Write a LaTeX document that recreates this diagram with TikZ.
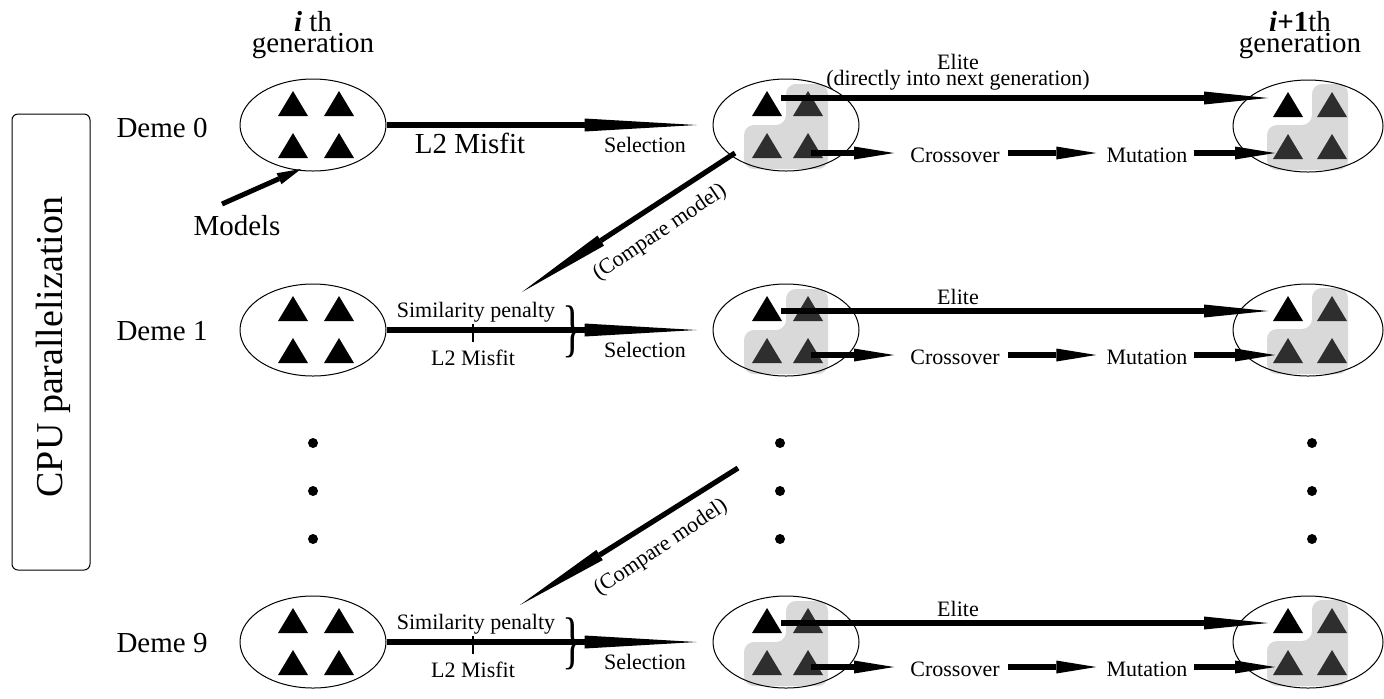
\documentclass[tikz,border=0pt]{standalone}
\usepackage{fontspec}
\setmainfont{Liberation Serif}
\usetikzlibrary{arrows.meta,shapes.geometric,calc}
\definecolor{selgray}{HTML}{D9D9D9}
\definecolor{tridark}{HTML}{2E2E2E}
\newcommand\mytri[2]{\fill[#1,shift={(#2)}] (-15,12) -- (15,12) -- (0,-13) -- cycle;}
\begin{document}
\begin{tikzpicture}[x=0.5pt,y=-0.5pt,
  pop/.style={draw,ellipse,line width=0.5pt,minimum width=73pt,minimum height=46pt,inner sep=0pt},
  big/.style={font=\fontsize{14.5}{17}\selectfont,inner sep=0pt},
  sm/.style={font=\fontsize{11}{13}\selectfont,inner sep=0pt},
  mainarr/.style={line width=3pt,-{Triangle[length=56pt,width=6.5pt,line width=0pt]}},
  elarr/.style={line width=2.8pt,-{Triangle[length=32pt,width=6.5pt,line width=0pt]}},
  smarr/.style={line width=2.8pt,-{Triangle[length=20pt,width=6.5pt,line width=0pt]}},
  cmparr/.style={line width=2.6pt,-{Triangle[length=47pt,width=6pt,line width=0pt]}},
  modarr/.style={line width=2.5pt,-{Triangle[length=12pt,width=6pt,line width=0pt]}},
  plain/.pic={
    \node[pop] (-e) at (0,0) {};
    \mytri{black}{-20,-21}\mytri{black}{26,-21}
    \mytri{black}{-20,21}\mytri{black}{26,21}
  },
  sel/.pic={
    \fill[selgray,rounded corners=5pt] (-42,0) -- (0,0) -- (0,-41) -- (42,-41) -- (42,44) -- (-42,44) -- cycle;
    \node[pop] (-e) at (0,0) {};
    \mytri{black}{-19,-21}\mytri{tridark}{22,-21}
    \mytri{tridark}{-19,21}\mytri{tridark}{22,21}
  },
  nxt/.pic={
    \fill[selgray,rounded corners=5pt] (-41,-1) -- (4,-1) -- (4,-42) -- (40,-42) -- (40,44) -- (-41,44) -- cycle;
    \node[pop,minimum width=75pt] (-e) at (0,0) {};
    \mytri{black}{-20,-21}\mytri{tridark}{24,-21}
    \mytri{tridark}{-20,21}\mytri{tridark}{24,21}
  }]
\useasboundingbox (0,0) rectangle (1384,698);

% CPU box
\node[draw,line width=0.5pt,rounded corners=3pt,minimum width=39pt,minimum height=228pt,inner sep=0pt] (cpu) at (51,342) {};
\node[rotate=90,font=\fontsize{19}{22}\selectfont,inner sep=0pt] (cpulab) at (53,347) {CPU parallelization};

% headers
\node[big,anchor=base] (h1a) at (313,31) {\textbf{\textit{i}} th};
\node[big,anchor=base] (h1b) at (313,52) {generation};
\node[big,anchor=base] (h2a) at (1300,31) {\textbf{\textit{i}+1}th};
\node[big,anchor=base] (h2b) at (1300,52) {generation};

% deme labels
\node[big] (d0) at (162,128) {Deme 0};
\node[big] (d1) at (162,331) {Deme 1};
\node[big] (d9) at (162,643) {Deme 9};

% populations
\pic (L0) at (313,125) {plain};
\pic (L1) at (313,330) {plain};
\pic (L9) at (313,642) {plain};
\pic (M0) at (786,125) {sel};
\pic (M1) at (786,330) {sel};
\pic (M9) at (786,642) {sel};
\pic (R0) at (1308,126) {nxt};
\pic (R1) at (1308,330) {nxt};
\pic (R9) at (1308,642) {nxt};

% Models
\node[big] (models) at (237,226) {Models};
\coordinate (mtail) at (222,204);
\draw[modarr] (mtail) -- ($(L0-e)+(-12,44)$);

% Deme 0 selection arrow
\draw[mainarr,shorten >=8pt] (L0-e.east) -- (M0-e.west);
\node[big] (l2a) at (470,143) {L2 Misfit};
\node[sm] (s0) at (645,145) {Selection};

% Deme 1 and 9 selection arrows
\foreach \r/\y in {1/330,9/642}{
  \draw[mainarr,shorten >=8pt] (L\r-e.east) -- (M\r-e.west);
  \draw[line width=1pt] (473,\y-6) -- (473,\y+12);
  \node[sm] (sp\r) at (476,\y-18) {Similarity penalty};
  \node[sm] (l2\r) at (473,\y+28) {L2 Misfit};
  \node[inner sep=0pt] (br\r) at (573,\y+2) {\scalebox{0.7}[1.05]{\fontsize{30}{30}\selectfont\}}};
  \node[sm] (s\r) at (645,\y+20) {Selection};
}

% Elite and crossover / mutation
\node[sm] (el0) at (958,62) {Elite};
\node[sm] (el0b) at (958,80) {(directly into next generation)};
\draw[elarr] ($(M0-e)+(-5,-27)$) -- ($(R0-e)+(-40,-28)$);
\node[sm] (co0) at (955,155) {Crossover};
\node[sm] (mu0) at (1147,155) {Mutation};
\draw[smarr,shorten >=8pt] ($(M0-e)+(25,28)$) -- (co0.west |- 0,153);
\draw[smarr,shorten <=4pt,shorten >=5pt] (co0.east |- 0,153) -- (mu0.west |- 0,153);
\draw[smarr,shorten <=3pt] (mu0.east |- 0,153) -- ($(R0-e)+(-33,27)$);

\foreach \r/\y in {1/330,9/642}{
  \node[sm] (el\r) at (958,\y-33) {Elite};
  \draw[elarr] ($(M\r-e)+(-5,-19)$) -- ($(R\r-e)+(-40,-19)$);
  \node[sm] (co\r) at (955,\y+27) {Crossover};
  \node[sm] (mu\r) at (1147,\y+27) {Mutation};
  \draw[smarr,shorten >=8pt] ($(M\r-e)+(25,25)$) -- (co\r.west |- 0,\y+25);
  \draw[smarr,shorten <=4pt,shorten >=5pt] (co\r.east |- 0,\y+25) -- (mu\r.west |- 0,\y+25);
  \draw[smarr,shorten <=3pt] (mu\r.east |- 0,\y+25) -- ($(R\r-e)+(-33,25)$);
}

% Compare model arrows
\coordinate (c1a) at (735,153);
\coordinate (c1b) at (522,292);
\draw[cmparr] (c1a) -- (c1b);
\node[sm,rotate=34] (cm1) at (660,233) {(Compare model)};
\coordinate (c2a) at (738,468);
\coordinate (c2b) at (520,605);
\draw[cmparr] (c2a) -- (c2b);
\node[sm,rotate=34] (cm2) at (661,548) {(Compare model)};

% dots
\foreach \x in {313,780,1312}{
  \foreach \yy in {443,491,539}{
    \fill (\x,\yy) circle[radius=2.5pt];
  }
}
\end{tikzpicture}
\end{document}
